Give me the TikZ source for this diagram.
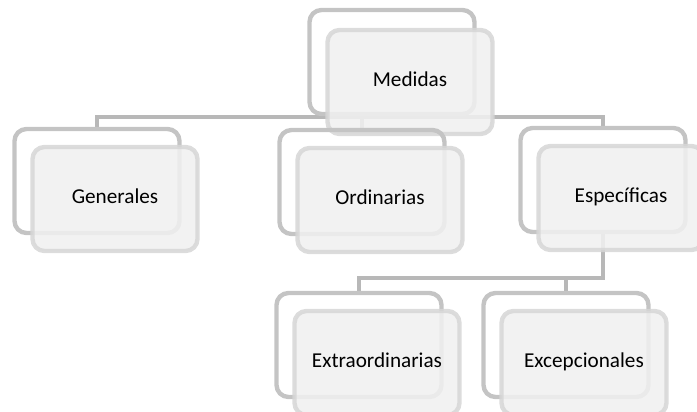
\documentclass[tikz,border=0pt]{standalone}
\usepackage{fontspec}
\setmainfont{Carlito}
\usetikzlibrary{calc}

\definecolor{backline}{HTML}{C4C4C4}
\definecolor{frontline}{HTML}{D6D6D6}
\definecolor{frontfill}{HTML}{F0F0F0}
\definecolor{connline}{HTML}{B8B8B8}

\pgfdeclarelayer{bg}
\pgfsetlayers{bg,main}

\tikzset{
  backbox/.style={draw=backline, line width=2.2pt, rounded corners=6pt,
    minimum width=82.5pt, minimum height=52pt, outer sep=0pt},
  frontbox/.style={draw=frontline, fill=frontfill, line width=2.2pt, rounded corners=6pt,
    minimum width=82.5pt, minimum height=52pt, outer sep=0pt,
    fill opacity=0.88, draw opacity=0.85, text opacity=1,
    text height=7pt, text depth=2.4pt,
    font=\fontsize{10.6}{12}\selectfont},
  conn/.style={draw=connline, line width=2pt}
}

\begin{document}
\begin{tikzpicture}[x=0.5pt,y=-0.5pt]
\useasboundingbox (0,0) rectangle (697,412);

% top
\node[backbox] (med-b) at (392,62) {};
\node[frontbox] (med) at ($(med-b)+(18,20)$) {Medidas};

% second row
\node[backbox] (gen-b) at (97,181) {};
\node[frontbox] (gen) at ($(gen-b)+(18,18)$) {Generales};
\node[backbox] (ord-b) at (362,182) {};
\node[frontbox] (ord) at ($(ord-b)+(18,18)$) {Ordinarias};
\node[backbox] (spe-b) at (603,180) {};
\node[frontbox] (spe) at ($(spe-b)+(18,18)$) {Específicas};

% third row
\node[backbox] (ext-b) at (359,345) {};
\node[frontbox] (ext) at ($(ext-b)+(18,18)$) {Extraordinarias};
\node[backbox] (exc-b) at (566,345) {};
\node[frontbox] (exc) at ($(exc-b)+(18,18)$) {Excepcionales};

% connectors
\begin{pgfonlayer}{bg}
\coordinate (bus) at (392,117);
\coordinate (bus2) at (603,278);
\draw[conn] (med-b.south) -- (bus);
\draw[conn] (gen-b.north) |- (bus) -| (spe-b.north);
\draw[conn] (ord-b.north) -- (ord-b.north |- bus);
\draw[conn] (spe-b.south) -- (bus2) -| (ext-b.north);
\draw[conn] (exc-b.north) -- (exc-b.north |- bus2);
\end{pgfonlayer}
\end{tikzpicture}
\end{document}
